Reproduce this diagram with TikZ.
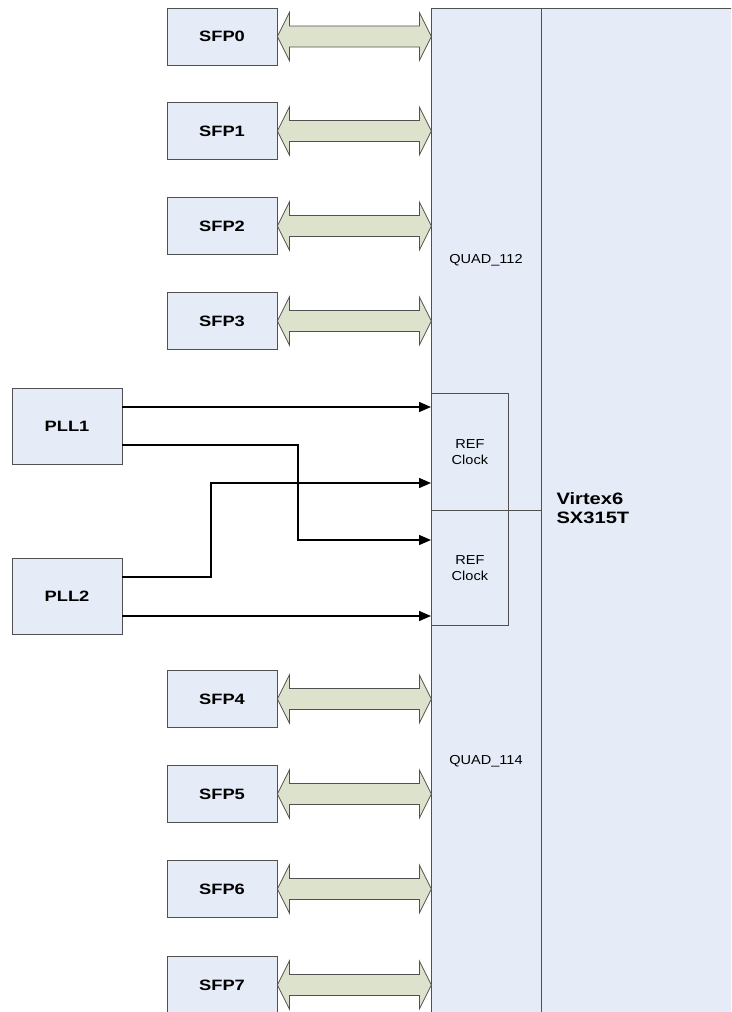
\documentclass[tikz,border=0pt]{standalone}
\usepackage{fontspec}
\setmainfont{Liberation Sans}
\newfontfamily\widefont[FakeStretch=1.22]{Liberation Sans}
\newfontfamily\wideish[FakeStretch=1.12]{Liberation Sans}
\usetikzlibrary{arrows.meta,calc}

\definecolor{boxfill}{HTML}{E6ECF7}
\definecolor{linkfill}{HTML}{DDE2CC}
\definecolor{edge}{HTML}{505050}

\tikzset{
    blk/.style={draw=edge,fill=boxfill,line width=0.8pt,inner sep=0pt},
    port/.style={blk,minimum width=110pt,minimum height=57pt,font=\widefont\bfseries\fontsize{15}{16}\selectfont},
    pll/.style={blk,minimum width=110pt,minimum height=76pt,font=\widefont\bfseries\fontsize{15}{16}\selectfont},
    link/.style={draw=edge,fill=linkfill,line width=0.8pt,line join=miter},
    clk/.style={line width=1.4pt,-{Triangle[length=12pt,width=10pt]}},
    lbl/.style={font=\wideish\fontsize{13}{16}\selectfont,align=center}
}

\begin{document}
\begin{tikzpicture}[x=1pt,y=1pt]
    \useasboundingbox (0,0) rectangle (731,-1012);
    \clip (0,0) rectangle (731,-1012);

    % FPGA
    \node[blk,anchor=north west,minimum width=210pt,minimum height=1030pt] (fpga) at (541,-8) {};
    \node[blk,anchor=north west,minimum width=110pt,minimum height=502pt] (q112) at (431,-8) {};
    \node[blk,anchor=north west,minimum width=110pt,minimum height=530pt] (q114) at (431,-510) {};
    \node[lbl] at (486,-260) {QUAD\_112};
    \node[lbl] at (486,-761) {QUAD\_114};
    \node[anchor=west,align=left,font=\widefont\bfseries\fontsize{16.5}{19}\selectfont] (chip) at (553,-508) {Virtex6\\SX315T};

    % reference clock inputs
    \node[blk,anchor=north west,minimum width=77pt,minimum height=117pt,lbl] (ref1) at (431,-393) {REF\\Clock};
    \node[blk,anchor=north west,minimum width=77pt,minimum height=115pt,lbl] (ref2) at (431,-510) {REF\\Clock};

    % SFP cages
    \foreach \i/\y in {0/36.5,1/131,2/226,3/321,4/699,5/794,6/889,7/985}
    {
        \node[port] (s\i) at (222,-\y) {SFP\i};
        \draw[link] (s\i.east) -- ++(12,24) -- ++(0,-13.5) -- ++(130,0) -- ++(0,13.5)
            -- ++(12,-24) -- ++(-12,-24) -- ++(0,13.5) -- ++(-130,0) -- ++(0,-13.5) -- cycle;
    }

    % PLLs
    \node[pll] (pll1) at (67,-426) {PLL1};
    \node[pll] (pll2) at (67,-596) {PLL2};

    % clock lines
    \draw[clk] (pll1.east |- 0,-407) -- (ref1.west |- 0,-407);
    \draw[clk] (pll1.east |- 0,-445) -- (298,-445) |- (ref2.west |- 0,-540);
    \draw[clk] (pll2.east |- 0,-577) -- (211,-577) |- (ref1.west |- 0,-483);
    \draw[clk] (pll2.east |- 0,-616) -- (ref2.west |- 0,-616);
\end{tikzpicture}
\end{document}
